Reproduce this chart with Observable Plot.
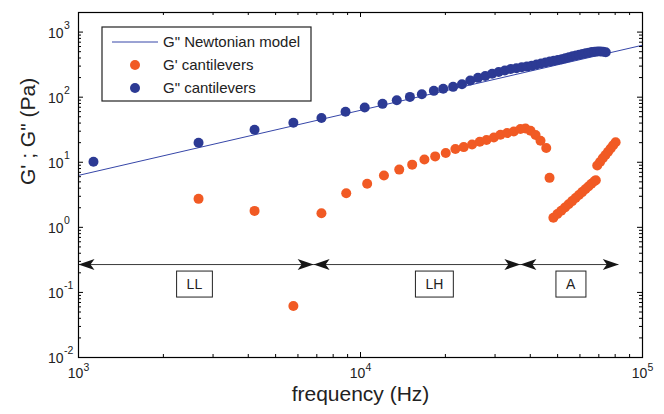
<!DOCTYPE html>
<html><head><meta charset="utf-8">
<script src="https://cdn.jsdelivr.net/npm/d3@7"></script>
<script src="https://cdn.jsdelivr.net/npm/@observablehq/plot@0.6"></script>
<style>
body{margin:0;background:#fff;}
#chart svg{display:block;}
#chart svg text{font-family:"Liberation Sans",Arial,Helvetica,sans-serif;}
</style></head><body><div id="chart"></div>
<script>
// G'' cantilevers (frequency Hz, Pa)
const gppFreq = [1130,2665,4210,5780,7270,8850,10350,11970,13450,14970,16500,18200,19650,21300,22900,
  24500,26100,27700,29300,30900,32500,34100,35700,37300,38900,40500,42100,43700,45300,46900,48500,
  50100,51700,53300,54900,56500,58100,59700,61300,62900,64500,66100,67700,69300,70900,72500,74100];
const gppVal = [10.2,20.0,31.6,40.4,48.0,59.6,69.3,78.9,89.9,101,111,125,135,144,158,
  180,198,212,229,243,257,271,279,288,295,305,318,330,342,352,362,
  372,383,398,412,425,437,448,460,472,483,493,500,504,503,498,490];
// G' cantilevers
const gpFreq = [2665,4210,5780,7270,8900,10560,12110,13720,15250,16850,18400,20060,21700,23230,24870,
  26480,27980,29710,31360,33120,34970,36910,38460,40070,41770,43480,45570,46810,
  48300,49900,51500,53100,54700,56300,57900,59500,61100,62700,64300,65900,67500,68300,
  69100,70700,72300,73900,75500,77100,78700,80300];
const gpVal = [2.74,1.79,0.062,1.65,3.34,4.66,6.24,7.71,9.19,11.0,12.3,13.9,16.0,17.1,18.8,
  20.7,22.0,24.0,26.5,28.1,29.7,32.4,33.1,30.5,26.2,21.4,16.6,5.76,
  1.40,1.60,1.80,2.02,2.27,2.53,2.83,3.14,3.48,3.84,4.25,4.67,5.12,5.30,
  8.91,10.1,11.5,12.9,14.5,16.3,18.3,20.3];
// Newtonian model G'' = 2*pi*f*eta
const viscosity = 0.001;
const modelFreq = [1000, 100000];
// regimes
const regionNames = ["LL","LH","A"];
const regionFrom = [1000, 6820, 36900];
const regionTo = [6820, 36900, 82400];
const regionLabelAt = [2576, 18280, 55600];
const arrowLevel = 0.268;
const labelLevel = 0.132;
// axes
const xDomain = [1e3, 1e5];
const yDomain = [1e-2, 2e3];
const xMajor = [1e3, 1e4, 1e5];
const yMajor = [1e-2, 1e-1, 1e0, 1e1, 1e2, 1e3];
const xTitle = "frequency (Hz)";
const yTitle = "G' ; G\" (Pa)";
const legendLabels = ["G\" Newtonian model", "G' cantilevers", "G\" cantilevers"];

const BLUE = "#2c3a94", LINE = "#3646a8", ORANGE = "#f15a24";
const W = 664, H = 414, mL = 78, mR = 22, mT = 12, mB = 57;
const fW = W - mL - mR, fH = H - mT - mB;

const gpp = gppFreq.map((f, i) => ({f, g: gppVal[i]}));
const gp = gpFreq.map((f, i) => ({f, g: gpVal[i]}));
const model = modelFreq.map(f => ({f, g: 2 * Math.PI * f * viscosity}));
const regions = regionNames.map((name, i) => ({name, from: regionFrom[i], to: regionTo[i], at: regionLabelAt[i]}));
const xAll = d3.scaleLog().domain(xDomain).ticks();
const yAll = d3.scaleLog().domain(yDomain).ticks().filter(v => v <= yDomain[1]);
const isMajor = v => Math.abs(Math.log10(v) - Math.round(Math.log10(v))) < 1e-9;
const xMinor = xAll.filter(v => !isMajor(v)), yMinor = yAll.filter(v => !isMajor(v));
const exp = d => String(Math.round(Math.log10(d)));

const headLeft = {draw(c){ c.moveTo(0,0); c.lineTo(16,-5.5); c.lineTo(12,0); c.lineTo(16,5.5); c.closePath(); }};
const headRight = {draw(c){ c.moveTo(0,0); c.lineTo(-16,-5.5); c.lineTo(-12,0); c.lineTo(-16,5.5); c.closePath(); }};

const tickMarks = [];
for (const [vals, len] of [[xMajor, 5], [xMinor, 3]]) {
  tickMarks.push(Plot.tickX(vals, {x: d => d, insetTop: fH - len, stroke: "black", strokeWidth: 1}));
  tickMarks.push(Plot.tickX(vals, {x: d => d, insetBottom: fH - len, stroke: "black", strokeWidth: 1}));
}
for (const [vals, len] of [[yMajor, 5], [yMinor, 3]]) {
  tickMarks.push(Plot.tickY(vals, {y: d => d, insetRight: fW - len, stroke: "black", strokeWidth: 1}));
  tickMarks.push(Plot.tickY(vals, {y: d => d, insetLeft: fW - len, stroke: "black", strokeWidth: 1}));
}

const chart = Plot.plot({
  width: W, height: H,
  marginLeft: mL, marginRight: mR, marginTop: mT, marginBottom: mB,
  x: {type: "log", domain: xDomain, axis: null},
  y: {type: "log", domain: yDomain, axis: null},
  style: {background: "white", fontFamily: "Liberation Sans, Arial, Helvetica, sans-serif"},
  marks: [
    Plot.line(model, {x: "f", y: "g", stroke: LINE, strokeWidth: 1}),
    Plot.dot(gpp, {x: "f", y: "g", r: 5, fill: BLUE, stroke: null}),
    Plot.dot(gp, {x: "f", y: "g", r: 5, fill: ORANGE, stroke: null}),
    Plot.ruleY(regions, {y: () => arrowLevel, x1: "from", x2: "to", stroke: "#3a3a3a", strokeWidth: 1}),
    Plot.dot(regions, {x: "from", y: () => arrowLevel, symbol: headLeft, fill: "#151515", stroke: null}),
    Plot.dot(regions, {x: "to", y: () => arrowLevel, symbol: headRight, fill: "#151515", stroke: null}),
    Plot.text(regions, {x: "at", y: () => labelLevel, text: "name", fontSize: 14, fill: "#222"}),
    ...tickMarks,
    Plot.frame({stroke: "black", strokeWidth: 1.2}),
    // x tick labels
    Plot.text(xMajor, {x: d => d, text: () => "10", frameAnchor: "bottom", dy: 20, dx: -3, fontSize: 14, fill: "#222"}),
    Plot.text(xMajor, {x: d => d, text: exp, frameAnchor: "bottom", dy: 13, dx: 5, textAnchor: "start", fontSize: 10.5, fill: "#222"}),
    // y tick labels
    Plot.text(yMajor, {y: d => d, text: () => "10", frameAnchor: "left", dx: -15, dy: 1.5, textAnchor: "end", fontSize: 14, fill: "#222"}),
    Plot.text(yMajor, {y: d => d, text: exp, frameAnchor: "left", dx: -14.5, dy: -6.5, textAnchor: "start", fontSize: 10.5, fill: "#222"}),
    // axis titles
    Plot.text([xTitle], {text: d => d, frameAnchor: "bottom", dy: 43, fontSize: 21, fill: "#222"}),
    Plot.text([yTitle], {text: d => d, frameAnchor: "left", dx: -50, rotate: -90, fontSize: 21, fill: "#222"})
  ]
});
document.getElementById("chart").appendChild(chart);

// boxes around regime labels
const svg = d3.select(chart);
svg.selectAll("text").filter(function() { return regionNames.includes(this.textContent); }).each(function() {
  const b = this.getBBox();
  const m = this.getAttribute("transform");
  d3.select(this.parentNode).insert("rect", () => this)
    .attr("transform", m)
    .attr("x", b.x - 10).attr("y", b.y - 5).attr("width", b.width + 20).attr("height", b.height + 10)
    .attr("fill", "white").attr("stroke", "#222").attr("stroke-width", 1);
});

// legend
const lg = svg.append("g").attr("font-size", 15).attr("text-anchor", "start").attr("fill", "#222");
lg.append("rect").attr("x", 102).attr("y", 27).attr("width", 209).attr("height", 74)
  .attr("fill", "white").attr("stroke", "#222").attr("stroke-width", 1.2);
lg.append("line").attr("x1", 112).attr("x2", 158).attr("y1", 42).attr("y2", 42).attr("stroke", LINE).attr("stroke-width", 1);
lg.append("circle").attr("cx", 135).attr("cy", 65).attr("r", 5).attr("fill", ORANGE);
lg.append("circle").attr("cx", 135).attr("cy", 88).attr("r", 5).attr("fill", BLUE);
legendLabels.forEach((t, i) => {
  lg.append("text").attr("x", 163).attr("y", 42 + 23 * i).attr("dy", "0.35em")
    .attr("text-anchor", "start").attr("fill", "#222").text(t);
});
</script></body></html>
